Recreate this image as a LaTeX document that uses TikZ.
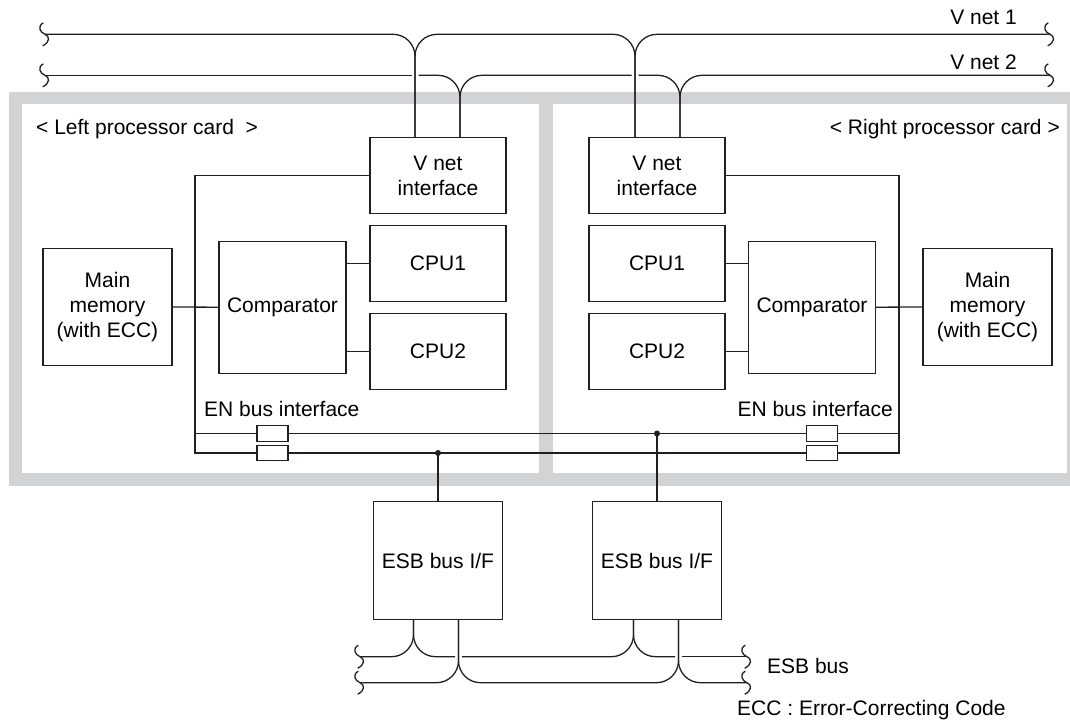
\documentclass[tikz,border=0pt]{standalone}
\usepackage{fontspec}
\setmainfont{Liberation Sans}
\definecolor{ink}{RGB}{35,31,32}
\definecolor{cardgray}{RGB}{210,211,213}
\begin{document}
\begin{tikzpicture}[x=1pt,y=-1pt,
  wire/.style={draw=ink,line width=1.3pt},
  busbend/.style={wire,rounded corners=22pt},
  box/.style={draw=ink,line width=1.3pt,fill=white,inner sep=0pt,align=center,
    font=\fontsize{21}{25}\selectfont,text=black},
  sbox/.style={draw=ink,line width=1.3pt,fill=white,inner sep=0pt,
    minimum width=31pt,minimum height=15.5pt},
  lbl/.style={inner sep=0pt,font=\fontsize{21}{25}\selectfont,text=black},
  squig/.pic={\draw[wire] (-1.7,-11.5) .. controls (-8,-8) and (-5,-2) .. (0,0)
      .. controls (5,2) and (5,8) .. (-2.3,11.5);}
]
\useasboundingbox (0,0) rectangle (1070,727);
% processor cards frame
\fill[cardgray] (9,91.7) rectangle (1075,486);
\fill[white] (22,104.3) rectangle (539,472.7);
\fill[white] (553,104.3) rectangle (1067,472.7);

% left card
\node[lbl,anchor=base west] (ltitle) at (36,135) {< Left processor card\ \ >};
\node[box,minimum width=136pt,minimum height=75.6pt] (lvni) at (438,175.5) {V net\\interface};
\node[box,minimum width=136pt,minimum height=75.6pt] (lcpu1) at (438,263.5) {CPU1};
\node[box,minimum width=136pt,minimum height=75.6pt] (lcpu2) at (438,351.5) {CPU2};
\node[box,minimum width=127pt,minimum height=132pt] (lcomp) at (282.5,307.2) {Comparator};
\node[box,minimum width=129pt,minimum height=117.4pt] (lmm) at (107.5,307) {Main\\memory\\(with ECC)};
\node[lbl,anchor=base west] (lenl) at (204,416.7) {EN bus interface};
\node[sbox] (lsb1) at (272.5,433.5) {};
\node[sbox] (lsb2) at (272.5,453) {};

% right card
\node[lbl,anchor=base east] (rtitle) at (1060,135) {< Right processor card >};
\node[box,minimum width=136pt,minimum height=75.6pt] (rvni) at (657,175.5) {V net\\interface};
\node[box,minimum width=136pt,minimum height=75.6pt] (rcpu1) at (657,263.5) {CPU1};
\node[box,minimum width=136pt,minimum height=75.6pt] (rcpu2) at (657,351.5) {CPU2};
\node[box,minimum width=127pt,minimum height=132pt] (rcomp) at (812,307.2) {Comparator};
\node[box,minimum width=129pt,minimum height=117.4pt] (rmm) at (987.5,307) {Main\\memory\\(with ECC)};
\node[lbl,anchor=base east] (renl) at (893,416.7) {EN bus interface};
\node[sbox] (rsb1) at (822,433.5) {};
\node[sbox] (rsb2) at (822,453) {};

% ESB bus interfaces
\node[box,minimum width=129.4pt,minimum height=117.6pt] (esb1) at (438,560.5) {ESB bus I/F};
\node[box,minimum width=129.4pt,minimum height=117.6pt] (esb2) at (657,560.5) {ESB bus I/F};

% labels
\node[lbl,anchor=base east] (vn1) at (1017,25) {V net 1};
\node[lbl,anchor=base east] (vn2) at (1017,70) {V net 2};
\node[lbl,anchor=base west] (esbl) at (767,673) {ESB bus};
\node[lbl,anchor=base west] (ecc) at (737,715) {ECC : Error-Correcting Code};

% coordinates
\coordinate (lva) at ([xshift=-23pt]lvni.north);
\coordinate (lvb) at ([xshift=22pt]lvni.north);
\coordinate (rva) at ([xshift=-22pt]rvni.north);
\coordinate (rvb) at ([xshift=23pt]rvni.north);
\coordinate (v1s) at (45,34.3);
\coordinate (v1e) at (1050,34.3);
\coordinate (v2s) at (45,75.3);
\coordinate (v2e) at (1050,75.3);
\coordinate (g1l) at (411.5,75.3);
\coordinate (g1r) at (418.5,75.3);
\coordinate (g2l) at (631.5,75.3);
\coordinate (g2r) at (638.5,75.3);

\coordinate (lt) at (195,175.5);
\coordinate (lb1) at (195,433.5);
\coordinate (lb2) at (195,453);
\coordinate (rt) at (899,175.5);
\coordinate (rb1) at (899,433.5);
\coordinate (rb2) at (899,453);
\coordinate (d1) at (438,453);
\coordinate (d2) at (657,433.5);

\coordinate (e1a) at ([xshift=-24.5pt]esb1.south);
\coordinate (e1b) at ([xshift=20.5pt]esb1.south);
\coordinate (e2a) at ([xshift=-23.5pt]esb2.south);
\coordinate (e2b) at ([xshift=21.5pt]esb2.south);
\coordinate (eas) at (360,656.7);
\coordinate (eae) at (747,656.7);
\coordinate (ebs) at (360,682.7);
\coordinate (ebe) at (747,682.7);
\coordinate (g3l) at (455,656.7);
\coordinate (g3r) at (462,656.7);
\coordinate (g4l) at (675,656.7);
\coordinate (g4r) at (682,656.7);

% V net 1
\draw[busbend] (v1s) -| (lva);
\draw[busbend] (lva) |- (rva |- v1s) -- (rva);
\draw[busbend] (rva) |- (v1e);
% V net 2
\draw[wire] (v2s) -- (g1l);
\draw[busbend] (g1r) -| (lvb);
\draw[busbend] (lvb) |- (g2l);
\draw[busbend] (g2r) -| (rvb);
\draw[busbend] (rvb) |- (v2e);
\pic at (v1s) {squig};
\pic at (v2s) {squig};
\pic at (v1e) {squig};
\pic at (v2e) {squig};

% internal buses
\draw[wire] (lvni.west) -- (lt) -- (lb2) -- (lsb2.west);
\draw[wire] (lb1) -- (lsb1.west);
\draw[wire] (lsb1.east) -- (rsb1.west);
\draw[wire] (lsb2.east) -- (rsb2.west);
\draw[wire] (rvni.east) -- (rt) -- (rb2) -- (rsb2.east);
\draw[wire] (rb1) -- (rsb1.east);
\draw[wire] (lmm.east) -- (lcomp.west);
\draw[wire] (lcpu1.west) -- (lcpu1.west -| lcomp.east);
\draw[wire] (lcpu2.west) -- (lcpu2.west -| lcomp.east);
\draw[wire] (rcomp.east) -- (rmm.west);
\draw[wire] (rcpu1.east) -- (rcpu1.east -| rcomp.west);
\draw[wire] (rcpu2.east) -- (rcpu2.east -| rcomp.west);
\draw[wire] (d1) -- (esb1.north);
\draw[wire] (d2) -- (esb2.north);
\fill[ink] (d1) circle (3pt);
\fill[ink] (d2) circle (3pt);

% ESB bus
\draw[busbend] (eas) -| (e1a);
\draw[busbend] (e1a) |- (g3l);
\draw[busbend] (g3r) -| (e2a);
\draw[busbend] (e2a) |- (g4l);
\draw[wire] (g4r) -- (eae);
\draw[busbend] (ebs) -| (e1b);
\draw[busbend] (e1b) |- (e2b |- ebs) -- (e2b);
\draw[busbend] (e2b) |- (ebe);
\pic at (eas) {squig};
\pic at (ebs) {squig};
\pic at (eae) {squig};
\pic at (ebe) {squig};
\end{tikzpicture}
\end{document}
